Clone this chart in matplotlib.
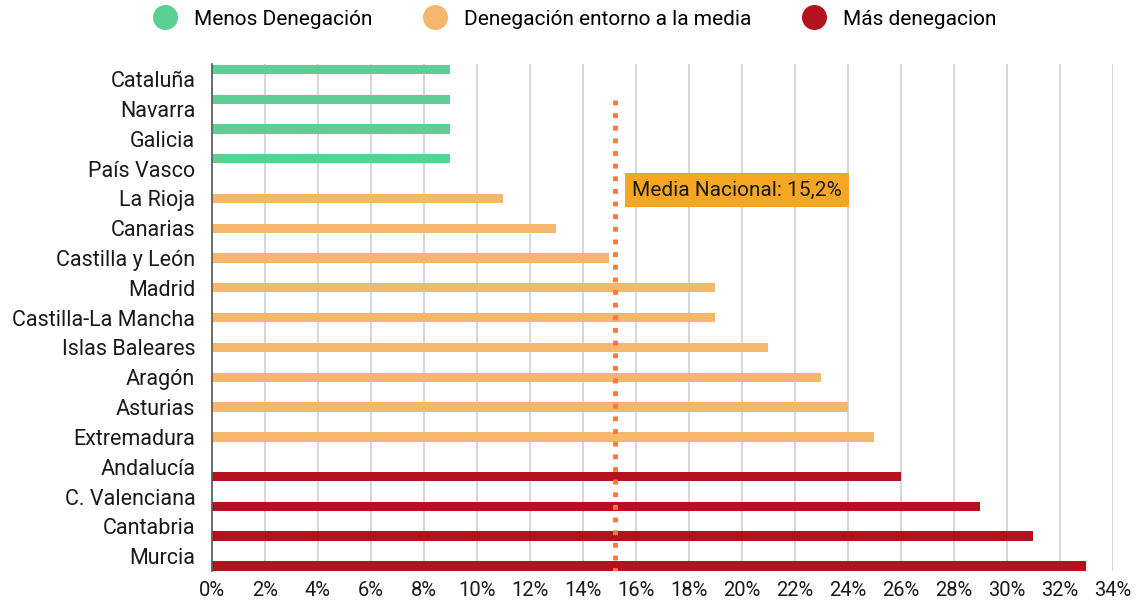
import matplotlib.pyplot as plt
from matplotlib.lines import Line2D
import numpy as np

plt.rcParams['font.family'] = ['Roboto', 'DejaVu Sans']

# Data ========================
regions = ['Cataluña', 'Navarra', 'Galicia', 'País Vasco', 'La Rioja', 'Canarias',
           'Castilla y León', 'Madrid', 'Castilla-La Mancha', 'Islas Baleares', 'Aragón',
           'Asturias', 'Extremadura', 'Andalucía', 'C. Valenciana', 'Cantabria', 'Murcia']
menos = [9, 9, 9, 9, 0, 0, 0, 0, 0, 0, 0, 0, 0, 0, 0, 0, 0]
entorno = [0, 0, 0, 0, 11, 13, 15, 19, 19, 21, 23, 24, 25, 0, 0, 0, 0]
mas = [0, 0, 0, 0, 0, 0, 0, 0, 0, 0, 0, 0, 0, 26, 29, 31, 33]
series_names = ['Menos Denegación', 'Denegación entorno a la media', 'Más denegacion']
media = 15.2
media_label = 'Media Nacional: 15,2%'

colors = ['#5ccf93', '#f4b76c', '#b5121f']

# Plot ========================
fig = plt.figure(figsize=(11.4, 6.05), dpi=100)
ax = fig.add_axes([0.186, 0.056, 0.790, 0.838])

y = np.arange(len(regions))
h = 0.31
for k, vals in enumerate([menos, entorno, mas]):
    ax.barh(y + (k - 1) * 0.325, vals, height=h, color=colors[k], zorder=3)

ax.set_xlim(0, 34)
ax.set_ylim(len(regions) - 0.5, -0.5)
ax.set_xticks(range(0, 35, 2))
ax.set_xticklabels([f'{v}%' for v in range(0, 35, 2)])
ax.set_yticks(y)
ax.set_yticklabels(regions)
ax.tick_params(axis='y', length=0, labelsize=15.5, colors='#1a1a1a', pad=12)
ax.tick_params(axis='x', length=0, labelsize=14.5, colors='#1a1a1a', pad=7)

ax.grid(axis='x', color='#d3d3d3', linewidth=1.3, zorder=0)
for s in ['top', 'right', 'bottom']:
    ax.spines[s].set_visible(False)
ax.spines['left'].set_color('#555555')
ax.spines['left'].set_linewidth(1.2)
ax.spines['left'].set_zorder(4)

# media line
ax.plot([media, media], [0.7, len(regions) - 0.5], color='#f47a45', linewidth=3.5,
        linestyle=(0, (1, 1.6)), zorder=5, solid_capstyle='butt', dash_capstyle='butt')
ax.text(15.85, 3.72, media_label, fontsize=15, color='#1a1a1a', va='center', ha='left',
        zorder=6, bbox=dict(boxstyle='square,pad=0.35', facecolor='#f5a623', edgecolor='none'))

# legend
handles = [Line2D([], [], marker='o', linestyle='none', markersize=17,
                  markerfacecolor=c, markeredgecolor=c) for c in colors]
fig.legend(handles, series_names, loc='upper center', bbox_to_anchor=(0.5, 1.015), ncol=3,
           frameon=False, fontsize=15, handletextpad=0.4, columnspacing=2.0)

plt.savefig('out.png', dpi=100)
